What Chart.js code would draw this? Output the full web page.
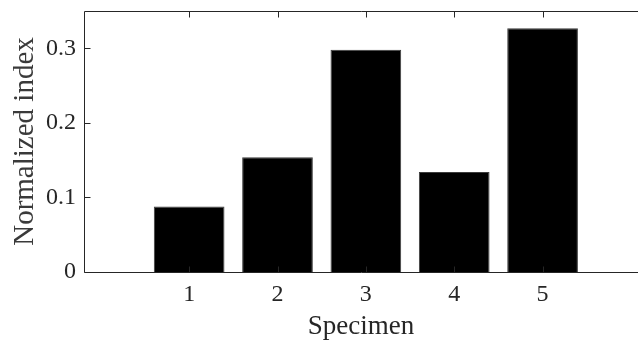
<!DOCTYPE html>
<html>
<head>
<meta charset="utf-8">
<script src="https://cdn.jsdelivr.net/npm/chart.js@4.4.1/dist/chart.umd.min.js"></script>
<style>
html,body{margin:0;padding:0;background:#fff;}
#wrap{width:638px;height:342px;position:relative;}
</style>
</head>
<body>
<div id="wrap"><canvas id="c" width="638" height="342"></canvas></div>
<script>
const categories = [1, 2, 3, 4, 5];
const values = [0.088, 0.154, 0.298, 0.134, 0.327];
const yTicks = [0, 0.1, 0.2, 0.3];
const yTickLabels = ['0', '0.1', '0.2', '0.3'];
const xLabel = 'Specimen';
const yLabel = 'Normalized index';

const axisColor = '#262626';

const boxPlugin = {
  id: 'boxPlugin',
  afterDatasetsDraw(chart) {
    const ctx = chart.ctx;
    const a = chart.chartArea;
    const xs = chart.scales.x, ys = chart.scales.y;
    ctx.save();
    ctx.strokeStyle = axisColor;
    ctx.lineWidth = 1;
    ctx.beginPath();
    const L = Math.round(a.left) + 0.5, T = Math.round(a.top) + 0.5, B = Math.round(a.bottom) + 0.5, R = a.right;
    ctx.moveTo(L, T); ctx.lineTo(R, T);
    ctx.moveTo(L, T); ctx.lineTo(L, B);
    ctx.moveTo(L, B); ctx.lineTo(R, B);
    const tl = 6;
    categories.forEach(v => {
      const px = Math.round(xs.getPixelForValue(v)) + 0.5;
      ctx.moveTo(px, B); ctx.lineTo(px, B - tl);
      ctx.moveTo(px, T); ctx.lineTo(px, T + tl);
    });
    yTicks.forEach(v => {
      const py = Math.round(ys.getPixelForValue(v)) + 0.5;
      ctx.moveTo(L, py); ctx.lineTo(L + tl, py);
    });
    ctx.stroke();
    ctx.restore();
  }
};

new Chart(document.getElementById('c'), {
  type: 'bar',
  data: {
    datasets: [{
      data: categories.map((c, i) => ({x: c, y: values[i]})),
      backgroundColor: '#000000',
      borderColor: '#3c3c3c',
      borderWidth: 1,
      barPercentage: 0.8,
      categoryPercentage: 1.0
    }]
  },
  options: {
    responsive: false,
    animation: false,
    events: [],
    layout: {padding: {top: 11, right: 0, left: 0, bottom: 0}},
    plugins: {legend: {display: false}, tooltip: {enabled: false}},
    scales: {
      x: {
        type: 'linear',
        offset: false,
        min: -0.19,
        max: 6.08,
        afterBuildTicks: s => { s.ticks = categories.map(v => ({value: v})); },
        afterFit: s => { s.height = 70; s.paddingLeft = 0; s.paddingRight = 0; },
        grid: {display: false, drawTicks: false, offset: false},
        border: {display: false},
        ticks: {
          padding: 11,
          color: axisColor,
          maxRotation: 0,
          autoSkip: false,
          font: {family: '"Liberation Serif", "Times New Roman", serif', size: 24, lineHeight: 1},
          callback: v => String(v)
        },
        title: {
          display: true,
          text: xLabel,
          color: axisColor,
          padding: {top: 0, bottom: 2},
          font: {family: '"Liberation Serif", "Times New Roman", serif', size: 27, lineHeight: 1}
        }
      },
      y: {
        min: 0,
        max: 0.35,
        afterBuildTicks: s => { s.ticks = yTicks.map(v => ({value: v})); },
        afterFit: s => { s.width = 84; s.paddingTop = 0; s.paddingBottom = 0; },
        grid: {display: false, drawTicks: false},
        border: {display: false},
        ticks: {
          padding: 8,
          color: axisColor,
          font: {family: '"Liberation Serif", "Times New Roman", serif', size: 24, lineHeight: 1},
          callback: (v) => { const i = yTicks.indexOf(v); return i >= 0 ? yTickLabels[i] : ''; }
        },
        title: {
          display: true,
          text: yLabel,
          color: '#3a3a3a',
          padding: {top: 11, bottom: 0},
          font: {family: '"Liberation Serif", "Times New Roman", serif', size: 29, lineHeight: 1}
        }
      }
    }
  },
  plugins: [boxPlugin]
});
</script>
</body>
</html>
